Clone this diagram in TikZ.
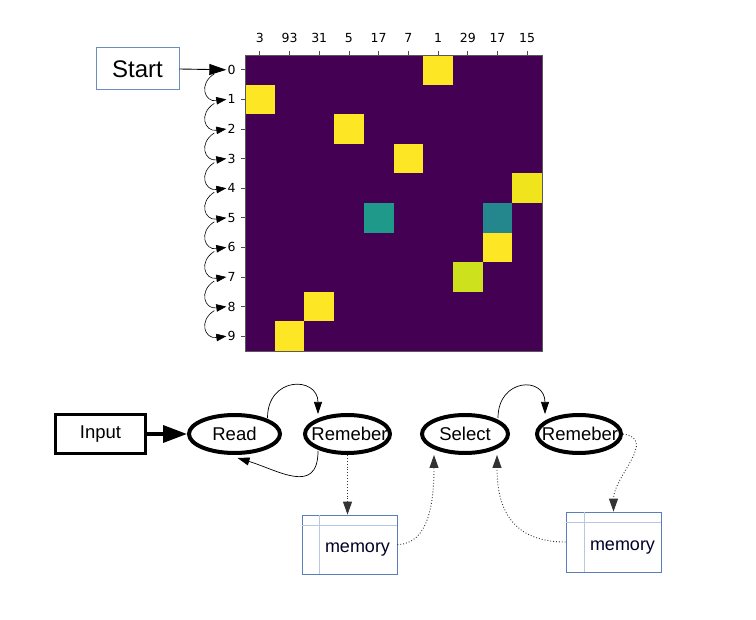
\documentclass[tikz,border=0pt]{standalone}
\usepackage{fontspec}
\setmainfont{Liberation Sans}
\newfontfamily\dejavu{DejaVu Sans}
\usetikzlibrary{arrows.meta,shapes.geometric}
\definecolor{vpurple}{HTML}{440154}
\definecolor{vyellow}{HTML}{FDE725}
\definecolor{vyellowb}{HTML}{F0E51C}
\definecolor{vlime}{HTML}{CDE11D}
\definecolor{vteal}{HTML}{1F998A}
\definecolor{vtealb}{HTML}{24878E}
\definecolor{startblue}{HTML}{6C8EBF}
\definecolor{memblue}{HTML}{5A7FB8}
\definecolor{memlight}{HTML}{B8C8E0}
\tikzset{
  ticklbl/.style={font=\dejavu\fontsize{12.5}{12.5}\selectfont, inner sep=1pt},
  tickline/.style={line width=0.8pt, draw=black!70},
  hop/.style={-{Triangle[length=10pt,width=7.5pt]}, line width=0.6pt},
  startbox/.style={draw=startblue, line width=1pt, minimum width=83pt, minimum height=42pt, font=\fontsize{24}{24}\selectfont},
  inbox/.style={draw, line width=3.5pt, minimum width=90pt, minimum height=39pt, font=\fontsize{18.5}{18.5}\selectfont},
  state/.style={ellipse, draw, line width=4pt, minimum height=38pt, inner sep=0pt},
  statetext/.style={font=\fontsize{18.5}{18.5}\selectfont, inner sep=0pt},
  membox/.style={draw=memblue, line width=0.8pt, minimum width=95pt, minimum height=59pt},
  memline/.style={draw=memlight, line width=0.8pt},
  memtext/.style={font=\fontsize{18}{18}\selectfont, text=black!85!blue, inner sep=0pt},
  curv/.style={-{Triangle[length=12pt,width=8pt]}, line width=0.7pt},
  dot/.style={-{Triangle[length=13pt,width=9pt]}, dotted, line width=0.9pt, draw=black!80},
}
\begin{document}
\begin{tikzpicture}[x=1pt,y=-1pt]
\useasboundingbox (0,0) rectangle (756,620);
% heatmap
\fill[vpurple] (245,55) rectangle (542,351);
\foreach \c/\r/\col in {6/0/vyellow, 0/1/vyellow, 3/2/vyellow, 5/3/vyellow, 9/4/vyellowb, 4/5/vteal, 8/5/vtealb, 8/6/vyellow, 7/7/vlime, 2/8/vyellow, 1/9/vyellow}
  \fill[\col] ({245+29.7*\c},{55+29.6*\r}) rectangle +(29.7,29.6);
\draw[line width=0.8pt, draw=black!65] (245,55) rectangle (542,351);
% column ticks
\foreach \lab [count=\i from 0] in {3,93,31,5,17,7,1,29,17,15} {
  \draw[tickline] ({259.85+29.7*\i},51) -- ({259.85+29.7*\i},55);
  \node[ticklbl] (c\i) at ({259.85+29.7*\i},38) {\lab};
}
% row ticks
\foreach \r in {0,...,9} {
  \draw[tickline] (241,{69.8+29.6*\r}) -- (245,{69.8+29.6*\r});
  \node[ticklbl] (r\r) at (231.5,{69.8+29.6*\r}) {\r};
}
% start
\node[startbox] (start) at (137.5,69) {Start};
\draw[-{Triangle[length=17pt,width=11pt]}, line width=0.9pt] (start.east) -- (r0.west);
\foreach \a [count=\b from 1] in {0,...,8} {
  \draw[hop] ([xshift=-12pt,yshift=-4pt]r\a.west) .. controls +(-16,10) and +(-22,3) .. (r\b.west);
}
% bottom flow
\node[inbox] (input) at (100.5,434) {Input};
\node[state, minimum width=91pt] (read) at (234.5,434) {};
\node[state, minimum width=85pt] (rem1) at (347.5,434) {};
\node[state, minimum width=86pt] (sel) at (465,434) {};
\node[state, minimum width=84pt] (rem2) at (579,434) {};
\node[statetext] (readt) at (read.center) {Read};
\node[statetext] (rem1t) at ([xshift=2pt]rem1.center) {Remeber};
\node[statetext] (selt) at (sel.center) {Select};
\node[statetext] (rem2t) at ([xshift=1pt]rem2.center) {Remeber};
\draw[-{Triangle[length=24pt,width=17pt]}, line width=3.5pt] (input.east) -- (read.west);
\draw[curv] ([xshift=33pt,yshift=16pt]read.center) .. controls +(0,-42) and +(0,-38) .. ([xshift=-29.5pt,yshift=20pt]rem1.center);
\draw[curv] ([xshift=-29.5pt,yshift=-17pt]rem1.center) .. controls +(0,45) and +(40,12) .. ([xshift=3pt,yshift=-24pt]read.center);
\draw[curv] ([xshift=33pt,yshift=16pt]sel.center) .. controls +(0,-40) and +(0,-38) .. ([xshift=-34pt,yshift=20pt]rem2.center);
% memories
\node[membox] (mem1) at (349.5,544.5) {};
\draw[memline] ([yshift=-11pt]mem1.north west) -- ([yshift=-11pt]mem1.north east);
\draw[memline] ([xshift=18pt]mem1.north west) -- ([xshift=18pt]mem1.south west);
\node[memtext] (m1t) at (357.5,550) {memory};
\node[membox, minimum height=60pt] (mem2) at (613.5,542) {};
\draw[memline] ([yshift=-11pt]mem2.north west) -- ([yshift=-11pt]mem2.north east);
\draw[memline] ([xshift=19pt]mem2.north west) -- ([xshift=19pt]mem2.south west);
\node[memtext] (m2t) at (622.5,548) {memory};
\draw[dot] (rem1.south) -- (mem1.north -| rem1.south);
\draw[dot] (mem1.east) .. controls +(32,0) and +(0,45) .. ([xshift=-31pt,yshift=-21pt]sel.center);
\draw[dot] (mem2.west) .. controls +(-60,0) and +(0,45) .. ([xshift=32pt,yshift=-21pt]sel.center);
\draw[dot] (rem2.east) .. controls +(35,5) and +(0,-35) .. (mem2.north);
\end{tikzpicture}
\end{document}
